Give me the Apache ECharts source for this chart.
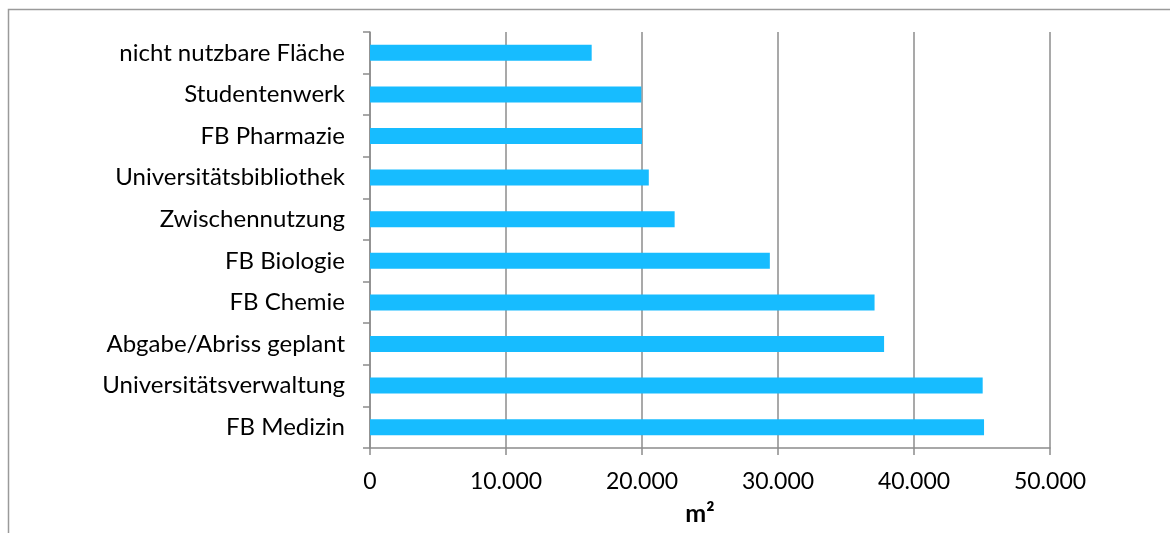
<!DOCTYPE html>
<html>
<head>
<meta charset="utf-8">
<script src="https://cdn.jsdelivr.net/npm/echarts@6/dist/echarts.min.js"></script>
<style>
html,body{margin:0;padding:0;background:#fff;}
#chart{width:1170px;height:533px;}
</style>
</head>
<body>
<div id="chart"></div>
<script>
// Categories listed bottom to top
const categories = [
  "FB Medizin",
  "Universitätsverwaltung",
  "Abgabe/Abriss geplant",
  "FB Chemie",
  "FB Biologie",
  "Zwischennutzung",
  "Universitätsbibliothek",
  "FB Pharmazie",
  "Studentenwerk",
  "nicht nutzbare Fläche"
];
const areaValues = [45150, 45050, 37800, 37100, 29400, 22400, 20500, 20000, 19950, 16300];
const axisName = "m²";

const FONT = "Lato, 'Open Sans', sans-serif";
const chart = echarts.init(document.getElementById('chart'), null, {renderer: 'canvas'});

function fmt(v) {
  return String(v).replace(/\B(?=(\d{3})+(?!\d))/g, '.');
}

chart.setOption({
  animation: false,
  backgroundColor: '#ffffff',
  graphic: [{
    type: 'rect',
    shape: {x: 8.5, y: 9.5, width: 1200, height: 600},
    style: {fill: 'none', stroke: '#9a9a9a', lineWidth: 1.5},
    silent: true
  }],
  grid: {left: 370, right: 120, top: 32, bottom: 85, containLabel: false},
  xAxis: {
    type: 'value',
    min: 0, max: 50000, interval: 10000,
    name: axisName,
    nameLocation: 'middle',
    nameGap: 53,
    nameTextStyle: {fontFamily: FONT, fontSize: 25, fontWeight: 'bold', color: '#000', padding: [0, 20, 0, 0]},
    axisLine: {show: true, lineStyle: {color: '#8c8c8c', width: 1.5}},
    axisTick: {show: true, length: 7, lineStyle: {color: '#8c8c8c', width: 1.5}},
    axisLabel: {fontFamily: FONT, fontSize: 23, color: '#000', margin: 22, formatter: fmt},
    splitLine: {show: true, lineStyle: {color: '#8c8c8c', width: 1.5}}
  },
  yAxis: {
    type: 'category',
    data: categories,
    axisLine: {show: true, lineStyle: {color: '#8c8c8c', width: 1.5}},
    axisTick: {show: true, length: 7, lineStyle: {color: '#8c8c8c', width: 1.5}},
    axisLabel: {fontFamily: FONT, fontSize: 24, color: '#000', margin: 25},
    splitLine: {show: false}
  },
  series: [{
    type: 'bar',
    data: areaValues,
    barWidth: 16,
    itemStyle: {color: '#17BCFF'},
    silent: true
  }]
});
</script>
</body>
</html>
